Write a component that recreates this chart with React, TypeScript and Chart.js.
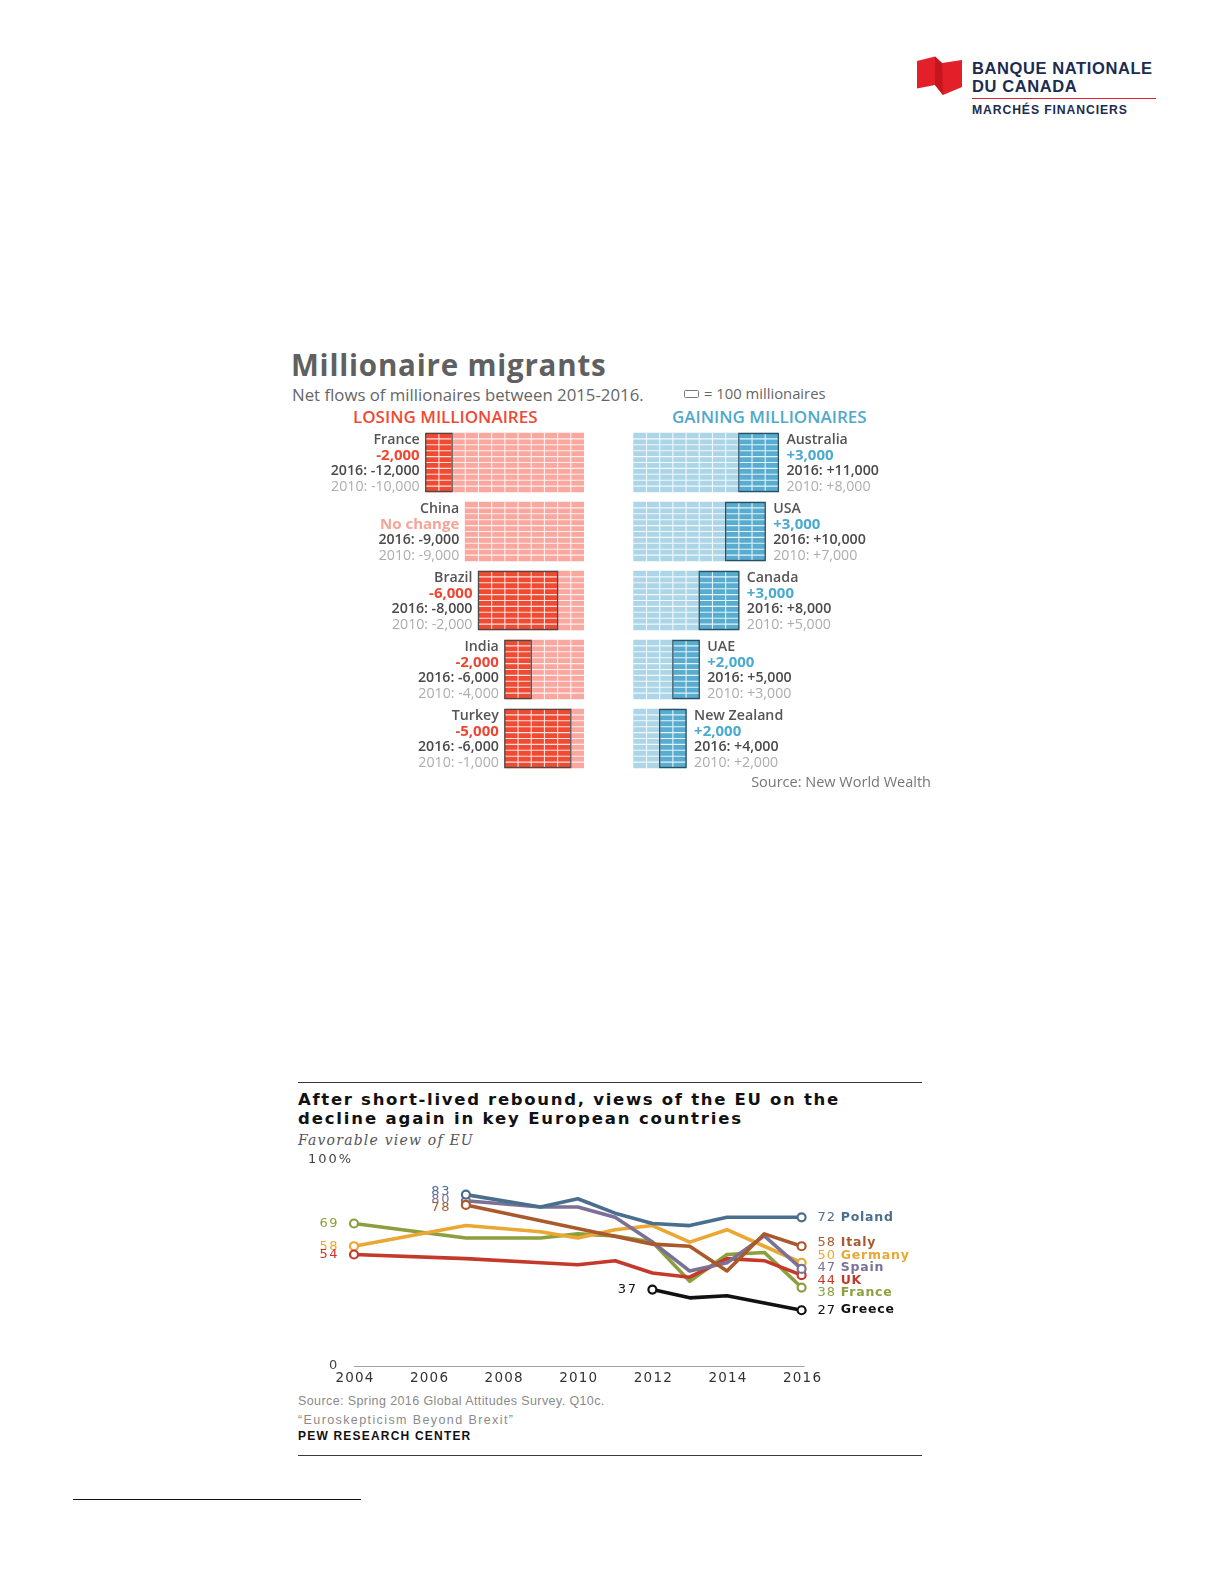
import React, { useEffect, useRef } from 'react';
import { Chart, registerables } from 'chart.js';
Chart.register(...registerables);

// ---------- Millionaire migrants data ----------
const losingCountries = ['France', 'China', 'Brazil', 'India', 'Turkey'];
const losing2010 = [10000, 9000, 2000, 4000, 1000];
const losingChange = [2000, 0, 6000, 2000, 5000];

const gainingCountries = ['Australia', 'USA', 'Canada', 'UAE', 'New Zealand'];
const gaining2010 = [8000, 7000, 5000, 3000, 2000];
const gainingChange = [3000, 3000, 3000, 2000, 2000];

// ---------- Pew EU favourability data ----------
const surveyYears = ['2004', '2005', '2006', '2007', '2008', '2009', '2010', '2011', '2012', '2013', '2014', '2015', '2016'];
const xTickYears = ['2004', '2006', '2008', '2010', '2012', '2014', '2016'];
const polandFav = [null, null, null, 83, null, 77, 81, 74, 69, 68, 72, 72, 72];
const spainFav = [null, null, null, 80, null, 77, 77, 72, 60, 46, 50, 63, 47];
const italyFav = [null, null, null, 78, null, null, null, null, 59, 58, 46, 64, 58];
const germanyFav = [58, null, null, 68, null, 65, 62, 66, 68, 60, 66, 58, 50];
const franceFav = [69, null, null, 62, null, 62, 64, 63, 60, 41, 54, 55, 38];
const ukFav = [54, null, null, 52, null, 50, 49, 51, 45, 43, 52, 51, 44];
const greeceFav = [null, null, null, null, null, null, null, null, 37, 33, 34, null, 27];

const pewSeries = [
  { name: 'Greece', data: greeceFav, color: '#111111' },
  { name: 'Poland', data: polandFav, color: '#4a6f8e' },
  { name: 'Italy', data: italyFav, color: '#a9592b' },
  { name: 'Spain', data: spainFav, color: '#7b7096' },
  { name: 'UK', data: ukFav, color: '#c4392a' },
  { name: 'Germany', data: germanyFav, color: '#eaa733' },
  { name: 'France', data: franceFav, color: '#8c9f3e' },
];

const fmt = (n: number) => n.toLocaleString('en-US');

function setSpacing(ctx: any, px: number) {
  if ('letterSpacing' in ctx) ctx.letterSpacing = px + 'px';
}

function firstIdx(d: (number | null)[]) {
  return d.findIndex((v) => v != null);
}
function lastIdx(d: (number | null)[]) {
  for (let i = d.length - 1; i >= 0; i--) if (d[i] != null) return i;
  return -1;
}

// spread labels vertically so they keep a minimum gap
function spread(items: { y: number; [k: string]: any }[], gap: number) {
  const arr = items.slice().sort((a, b) => a.y - b.y);
  let groups = arr.map((it) => ({ items: [it], center: it.y }));
  let changed = true;
  const pos = (g: any) => g.items.map((_: any, k: number) => g.center - ((g.items.length - 1) * gap) / 2 + k * gap);
  while (changed) {
    changed = false;
    for (let i = 0; i < groups.length - 1; i++) {
      const a = groups[i], b = groups[i + 1];
      const pa = pos(a), pb = pos(b);
      if (pb[0] - pa[pa.length - 1] < gap - 0.01) {
        const all = a.items.concat(b.items);
        const origs = all.map((it: any) => it.y);
        const mean = origs.reduce((s: number, v: number) => s + v, 0) / origs.length;
        groups.splice(i, 2, { items: all, center: mean });
        changed = true;
        break;
      }
    }
  }
  groups.forEach((g) => {
    const p = pos(g);
    g.items.forEach((it: any, k: number) => (it.ly = p[k]));
  });
  return arr;
}

function wafflePlugin(o: {
  id: string;
  names: string[];
  base: number[];
  change: number[];
  side: 'lose' | 'gain';
  sign: string;
  changeColor: string;
  noChangeColor: string;
  borderColor: string;
}) {
  return {
    id: o.id,
    afterDatasetsDraw(chart: any) {
      const ctx = chart.ctx;
      const xs = chart.scales.x;
      const meta0 = chart.getDatasetMeta(0);
      o.names.forEach((_, i) => {
        const el: any = meta0.data[i];
        const h = el.height;
        const top = el.y - h / 2;
        const total = o.base[i] + o.change[i];
        const p0 = xs.getPixelForValue(0);
        const p1 = xs.getPixelForValue(total);
        const l = Math.min(p0, p1), r = Math.max(p0, p1);
        ctx.save();
        ctx.strokeStyle = 'rgba(255,255,255,0.85)';
        ctx.lineWidth = 1.1;
        ctx.beginPath();
        for (let k = 1000; k < total; k += 1000) {
          const px = xs.getPixelForValue(k);
          ctx.moveTo(px, top);
          ctx.lineTo(px, top + h);
        }
        for (let rr = 1; rr < 10; rr++) {
          const py = top + (rr * h) / 10;
          ctx.moveTo(l, py);
          ctx.lineTo(r, py);
        }
        ctx.stroke();
        if (o.change[i] > 0) {
          const a = xs.getPixelForValue(o.base[i]);
          ctx.strokeStyle = o.borderColor;
          ctx.lineWidth = 1.3;
          ctx.strokeRect(Math.min(a, p1), top + 0.5, Math.abs(p1 - a), h - 1);
        }
        ctx.restore();
      });
    },
    afterDraw(chart: any) {
      const ctx = chart.ctx;
      const xs = chart.scales.x;
      const meta0 = chart.getDatasetMeta(0);
      o.names.forEach((name, i) => {
        const el: any = meta0.data[i];
        const top = el.y - el.height / 2;
        const total = o.base[i] + o.change[i];
        const end = xs.getPixelForValue(total);
        const x = o.side === 'lose' ? end - 6 : end + 8;
        const lines = [
          { t: name, f: '600 14.2px "Open Sans"', c: '#555555' },
          {
            t: o.change[i] === 0 ? 'No change' : o.sign + fmt(o.change[i]),
            f: '700 15px "Open Sans"',
            c: o.change[i] === 0 ? o.noChangeColor : o.changeColor,
          },
          { t: '2016: ' + o.sign + fmt(total), f: '600 14.2px "Open Sans"', c: '#4a4a4a' },
          { t: '2010: ' + o.sign + fmt(o.base[i]), f: '400 14.2px "Open Sans"', c: '#adadad' },
        ];
        ctx.save();
        ctx.textBaseline = 'middle';
        ctx.textAlign = o.side === 'lose' ? 'right' : 'left';
        lines.forEach((ln, k) => {
          ctx.font = ln.f;
          ctx.fillStyle = ln.c;
          ctx.fillText(ln.t, x, top + 6.5 + k * 15.8);
        });
        ctx.restore();
      });
    },
  };
}

function makeWaffle(
  canvas: HTMLCanvasElement,
  names: string[],
  base: number[],
  change: number[],
  side: 'lose' | 'gain',
  light: string,
  dark: string,
  padding: any
) {
  return new Chart(canvas, {
    type: 'bar',
    data: {
      labels: names,
      datasets: [
        { label: '2010', data: base, backgroundColor: light, borderWidth: 0, stack: 's', barThickness: 59 } as any,
        { label: 'change', data: change, backgroundColor: dark, borderWidth: 0, stack: 's', barThickness: 59 } as any,
      ],
    },
    options: {
      indexAxis: 'y',
      animation: false,
      responsive: false,
      events: [],
      layout: { padding },
      scales: {
        x: { stacked: true, min: 0, max: 12000, reverse: side === 'lose', display: false },
        y: { stacked: true, display: false },
      },
      plugins: { legend: { display: false }, tooltip: { enabled: false } },
    },
    plugins: [
      wafflePlugin({
        id: 'waffle-' + side,
        names,
        base,
        change,
        side,
        sign: side === 'lose' ? '-' : '+',
        changeColor: side === 'lose' ? '#ee4630' : '#4aaad0',
        noChangeColor: '#f7a396',
        borderColor: side === 'lose' ? '#4a4a4a' : '#2d4f60',
      }) as any,
    ],
  });
}

const pewPlugin = {
  id: 'pewDecor',
  beforeDatasetsDraw(chart: any) {
    const { ctx, chartArea: a, scales } = chart;
    const y0 = Math.round(scales.y.getPixelForValue(0)) + 0.5;
    ctx.save();
    ctx.strokeStyle = '#a3a3a3';
    ctx.lineWidth = 1;
    ctx.beginPath();
    ctx.moveTo(a.left, y0);
    ctx.lineTo(a.right + 3, y0);
    ctx.stroke();
    ctx.restore();
  },
  afterDraw(chart: any) {
    const { ctx, chartArea: a, scales } = chart;
    const xs = scales.x, ys = scales.y;
    ctx.save();
    ctx.textBaseline = 'middle';
    // x ticks
    setSpacing(ctx, 1.2);
    ctx.font = '13.5px "DejaVu Sans"';
    ctx.fillStyle = '#333333';
    ctx.textAlign = 'center';
    xTickYears.forEach((yr) => {
      const idx = surveyYears.indexOf(yr);
      ctx.fillText(yr, xs.getPixelForValue(idx) + 1, a.bottom + 12);
    });
    // y labels
    setSpacing(ctx, 2);
    ctx.font = '13px "DejaVu Sans"';
    ctx.textAlign = 'left';
    ctx.fillStyle = '#444444';
    ctx.fillText('100%', a.left - 46, ys.getPixelForValue(100));
    ctx.fillText('0', a.left - 25, ys.getPixelForValue(0));

    // start labels
    setSpacing(ctx, 1.5);
    ctx.font = '13px "DejaVu Sans"';
    const starts = pewSeries.map((s) => {
      const i = firstIdx(s.data);
      return { s, i, y: ys.getPixelForValue(s.data[i] as number) };
    });
    const groupsByX: Record<number, any[]> = {};
    starts.forEach((st) => {
      (groupsByX[st.i] = groupsByX[st.i] || []).push(st);
    });
    Object.values(groupsByX).forEach((g) => {
      spread(g, 8).forEach((st: any) => {
        ctx.fillStyle = st.s.color;
        ctx.textAlign = 'right';
        ctx.fillText(String(st.s.data[st.i]), xs.getPixelForValue(st.i) - 15, st.ly);
      });
    });

    // end labels
    setSpacing(ctx, 0.8);
    const ends = pewSeries.map((s) => {
      const i = lastIdx(s.data);
      return { s, i, y: ys.getPixelForValue(s.data[i] as number) };
    });
    spread(ends, 12.5).forEach((en: any) => {
      const x = xs.getPixelForValue(en.i) + 16;
      ctx.textAlign = 'left';
      ctx.fillStyle = en.s.color;
      ctx.font = '13px "DejaVu Sans"';
      const num = String(en.s.data[en.i]) + ' ';
      ctx.fillText(num, x, en.ly);
      const w = ctx.measureText(num).width;
      ctx.font = 'bold 12.5px "DejaVu Sans"';
      ctx.fillText(en.s.name, x + w, en.ly);
    });
    ctx.restore();
  },
};

const endpointRadius = (c: any) => {
  const d = c.dataset.data;
  const i = c.dataIndex;
  return i === firstIdx(d) || i === lastIdx(d) ? 4 : 0;
};

function makePew(canvas: HTMLCanvasElement) {
  return new Chart(canvas, {
    type: 'line',
    data: {
      labels: surveyYears,
      datasets: pewSeries.map((s) => ({
        label: s.name,
        data: s.data,
        borderColor: s.color,
        backgroundColor: s.color,
        borderWidth: 3.6,
        pointRadius: endpointRadius,
        pointHoverRadius: 0,
        pointBackgroundColor: '#ffffff',
        pointBorderColor: s.color,
        pointBorderWidth: 2.2,
        spanGaps: true,
        tension: 0,
        clip: false,
        borderJoinStyle: 'round',
        borderCapStyle: 'round',
      })) as any,
    },
    options: {
      animation: false,
      responsive: false,
      events: [],
      layout: { padding: { left: 64, right: 128.4, top: 9.5, bottom: 24 } },
      scales: {
        x: { type: 'category', offset: false, display: false },
        y: { min: 0, max: 100, display: false },
      },
      plugins: { legend: { display: false }, tooltip: { enabled: false } },
    },
    plugins: [pewPlugin as any],
  });
}

const abs = (x: number, y: number, extra: React.CSSProperties = {}): React.CSSProperties => ({
  position: 'absolute',
  left: x,
  top: y,
  whiteSpace: 'nowrap',
  margin: 0,
  ...extra,
});

function Txt(props: {
  x?: number;
  right?: number;
  y: number;
  size: number;
  family: string;
  weight?: number | string;
  color: string;
  italic?: boolean;
  spacing?: number;
  lh?: number;
  children: React.ReactNode;
}) {
  const lh = props.size * (props.lh ?? 1.2);
  const st: React.CSSProperties = {
    position: 'absolute',
    top: props.y - lh / 2,
    fontSize: props.size,
    lineHeight: lh + 'px',
    fontFamily: props.family,
    fontWeight: props.weight ?? 400,
    fontStyle: props.italic ? 'italic' : 'normal',
    color: props.color,
    letterSpacing: props.spacing ? props.spacing + 'px' : undefined,
    whiteSpace: 'nowrap',
  };
  if (props.right != null) st.right = 1224 - props.right;
  else st.left = props.x;
  return <div style={st}>{props.children}</div>;
}

export default function App() {
  const loseRef = useRef<HTMLCanvasElement>(null);
  const gainRef = useRef<HTMLCanvasElement>(null);
  const pewRef = useRef<HTMLCanvasElement>(null);

  useEffect(() => {
    const c1 = makeWaffle(loseRef.current!, losingCountries, losing2010, losingChange, 'lose', '#f9a79f', '#f04a33', {
      left: 145.7,
      right: 16,
      top: 8,
      bottom: 7,
    });
    const c2 = makeWaffle(gainRef.current!, gainingCountries, gaining2010, gainingChange, 'gain', '#acd5e7', '#57acd0', {
      left: 23.3,
      right: 138.4,
      top: 8,
      bottom: 7,
    });
    const c3 = makePew(pewRef.current!);
    return () => {
      c1.destroy();
      c2.destroy();
      c3.destroy();
    };
  }, []);

  const OS = '"Open Sans", sans-serif';
  const LS = '"Liberation Sans", Arial, sans-serif';
  const DJ = '"DejaVu Sans", sans-serif';

  return (
    <div style={{ position: 'absolute', left: 0, top: 0, width: 1224, height: 1584, background: '#ffffff', overflow: 'hidden' }}>
      {/* Logo */}
      <svg style={abs(0, 0)} width={1224} height={130}>
        <path d="M917,61 L935,56.5 L942,63 L962,60 L962,87 L943,95 L935,85 L917,88.5 Z" fill="#e3202a" />
        <path d="M935,56.5 L942,63 L943,95 L935,85 Z" fill="#c5151d" />
      </svg>
      <Txt x={972} y={69} size={16.5} family={LS} weight={700} color="#1c2b50" spacing={0.6}>
        BANQUE NATIONALE
      </Txt>
      <Txt x={972} y={86.5} size={16.5} family={LS} weight={700} color="#1c2b50" spacing={0.6}>
        DU CANADA
      </Txt>
      <div style={abs(972, 98, { width: 184, height: 1, background: '#e4202a' })} />
      <Txt x={972} y={110.5} size={12.2} family={LS} weight={700} color="#1c2b50" spacing={0.9}>
        MARCHÉS FINANCIERS
      </Txt>

      {/* Millionaire migrants */}
      <Txt x={291} y={365} size={29.5} lh={1.0} family={OS} weight={700} color="#606060" spacing={0.8}>
        Millionaire migrants
      </Txt>
      <Txt x={292} y={394.5} size={16.8} lh={1.05} family={OS} color="#666666">
        Net flows of millionaires between 2015-2016.
      </Txt>
      <div style={abs(684, 390, { width: 13, height: 6, border: '1.5px solid #777', borderRadius: 1.5 })} />
      <Txt x={704} y={394} size={14.8} family={OS} color="#666666">
        = 100 millionaires
      </Txt>
      <Txt x={353} y={417.5} size={17} family={OS} weight={600} color="#ef4a35">
        LOSING MILLIONAIRES
      </Txt>
      <Txt x={672} y={417.5} size={17} family={OS} weight={600} color="#4fa9cc">
        GAINING MILLIONAIRES
      </Txt>
      <canvas ref={loseRef} width={320} height={360} style={abs(280, 420, { width: 320, height: 360 })} />
      <canvas ref={gainRef} width={320} height={360} style={abs(610, 420, { width: 320, height: 360 })} />
      <Txt right={931} y={782} size={14.5} family={OS} color="#777777">
        Source: New World Wealth
      </Txt>

      {/* Pew chart */}
      <div style={abs(298, 1082, { width: 624, height: 1, background: '#3a3a3a' })} />
      <Txt x={298} y={1100.5} size={16.5} lh={1.1} family={DJ} weight={700} color="#111111" spacing={1.7}>
        After short-lived rebound, views of the EU on the
      </Txt>
      <Txt x={298} y={1119} size={16.5} lh={1.1} family={DJ} weight={700} color="#111111" spacing={1.85}>
        decline again in key European countries
      </Txt>
      <Txt x={298} y={1140.5} size={14} family={'"DejaVu Serif", serif'} italic color="#555555" spacing={1.2}>
        Favorable view of EU
      </Txt>
      <canvas ref={pewRef} width={640} height={240} style={abs(290, 1150, { width: 640, height: 240 })} />
      <Txt x={298} y={1401.5} size={12.5} family={LS} color="#8a8a8a" spacing={0.4}>
        Source: Spring 2016 Global Attitudes Survey. Q10c.
      </Txt>
      <Txt x={298} y={1420.5} size={12.5} family={LS} color="#8a8a8a" spacing={1.4}>
        “Euroskepticism Beyond Brexit”
      </Txt>
      <Txt x={298} y={1436.5} size={12} family={LS} weight={700} color="#111111" spacing={1.2}>
        PEW RESEARCH CENTER
      </Txt>
      <div style={abs(298, 1455, { width: 624, height: 1, background: '#3a3a3a' })} />

      {/* footnote rule */}
      <div style={abs(73, 1499, { width: 288, height: 1, background: '#111111' })} />
    </div>
  );
}
